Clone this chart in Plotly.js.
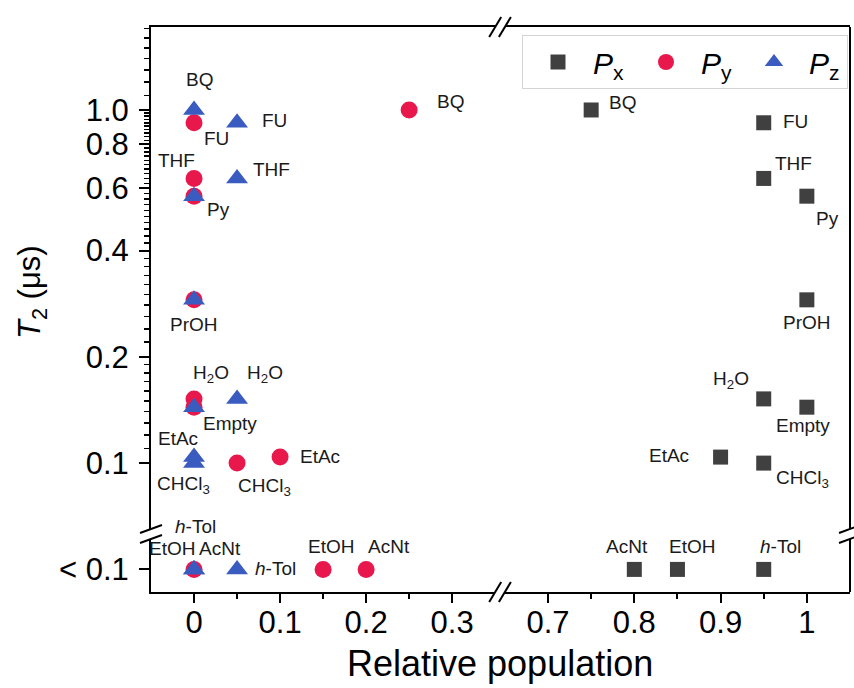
<!DOCTYPE html>
<html><head><meta charset="utf-8">
<script src="https://cdn.plot.ly/plotly-3.0.1.min.js"></script>
<style>html,body{margin:0;padding:0;background:#fff}</style>
</head><body>
<div id="chart" style="width:854px;height:688px"></div>
<script>
// ---- data (one T2 per solvent; the "< 0.1" row is stored as 0.05) ----
var solvents = ['BQ','FU','THF','Py','PrOH','H2O','Empty','EtAc','CHCl3','EtOH','AcNt','h-Tol'];
var T2 = [1.0, 0.92, 0.64, 0.57, 0.29, 0.152, 0.144, 0.104, 0.100, 0.05, 0.05, 0.05];
var Px = [0.75, 0.95, 0.95, 1.0, 1.0, 0.95, 1.0, 0.9, 0.95, 0.85, 0.8, 0.95];
var Py = [0.25, 0, 0, 0, 0, 0, 0, 0.1, 0.05, 0.15, 0.2, 0];
var Pz = [0, 0.05, 0.05, 0, 0, 0.05, 0, 0, 0, 0, 0, 0.05];

var yTickVals = [0.05, 0.1, 0.2, 0.4, 0.6, 0.8, 1.0];
var yTickText = ['< 0.1', '0.1', '0.2', '0.4', '0.6', '0.8', '1.0'];
var xTickValsLeft = [0, 0.1, 0.2, 0.3];
var xTickTextLeft = ['0', '0.1', '0.2', '0.3'];
var xTickValsRight = [0.7, 0.8, 0.9, 1.0];
var xTickTextRight = ['0.7', '0.8', '0.9', '1'];
var seriesNames = ['<i>P</i><sub>x</sub>', '<i>P</i><sub>y</sub>', '<i>P</i><sub>z</sub>'];

// ---- styling / placement ----
var FONT = 'Arial, "Liberation Sans", sans-serif';
var L = 151, R = 850, T = 27, B = 592;
function px2x(p){ return (p - L) / (R - L); }
function px2y(p){ return (B - p) / (B - T); }

var richName = {'H2O':'H<sub>2</sub>O','CHCl3':'CHCl<sub>3</sub>','h-Tol':'<i>h</i>-Tol'};
var labelOffsets = {
  Px: {BQ:[31,-7], FU:[32,-1], THF:[30,-15], Py:[21,22], PrOH:[0,23], H2O:[-33,-19], Empty:[-4,18],
       EtAc:[-52,-2], CHCl3:[39,16], AcNt:[-7,-23], EtOH:[15,-23], 'h-Tol':[17,-23]},
  Py: {BQ:[41,-8], FU:[22,16], THF:[-18,-18], Py:[24,13], PrOH:[0,25], H2O:[17,-25], Empty:[36,16],
       EtAc:[40,-1], CHCl3:[27,24], EtOH:[8,-23], AcNt:[23,-23], 'h-Tol':[1,-43]},
  Pz: {BQ:[5,-30], FU:[37,-2], THF:[34,-9], H2O:[28,-25], EtAc:[-16,-19], CHCl3:[-11,22],
       'h-Tol':[38,-1], EtOH:[-22,-21], AcNt:[26,-21]}
};

var traces = [
  {x: Px, y: T2, xaxis:'x2', yaxis:'y', name: seriesNames[0], type:'scatter', mode:'markers',
   marker:{symbol:'square', size:15, color:'#404040'}},
  {x: Py, y: T2, xaxis:'x', yaxis:'y', name: seriesNames[1], type:'scatter', mode:'markers',
   marker:{symbol:'circle', size:17, color:'#e8184c'}},
  {x: Pz, y: T2, xaxis:'x', yaxis:'y', name: seriesNames[2], type:'scatter', mode:'markers',
   marker:{symbol:'triangle-up', size:19, color:'#3a5bbf'}}
];

var annotations = [];
var seriesData = {Px: Px, Py: Py, Pz: Pz};
var seriesRef = {Px:'x2', Py:'x', Pz:'x'};
Object.keys(labelOffsets).forEach(function(s){
  solvents.forEach(function(sol, i){
    var off = labelOffsets[s][sol];
    if (!off) return;
    annotations.push({
      x: seriesData[s][i], y: Math.log10(T2[i]), xref: seriesRef[s], yref:'y',
      text: richName[sol] || sol, showarrow:false, xanchor:'center', yanchor:'middle',
      xshift: off[0], yshift: -off[1], font:{family:FONT, size:19, color:'#1a1a1a'}
    });
  });
});
// axis titles
annotations.push({xref:'paper', yref:'paper', x: px2x(500), y: px2y(663), text:'Relative population',
  showarrow:false, xanchor:'center', yanchor:'middle', font:{family:FONT, size:36, color:'#000'}});
annotations.push({xref:'paper', yref:'paper', x: px2x(32), y: px2y(292), text:'<i>T</i><sub>2</sub> (μs)',
  textangle:-90, showarrow:false, xanchor:'center', yanchor:'middle', font:{family:FONT, size:31, color:'#000'}});

// minor ticks on the log axis
var yMinor = [];
function addRange(a, b, st){ for (var k = Math.round(a/st); k <= Math.round(b/st); k++) yMinor.push(+(k*st).toFixed(3)); }
addRange(0.11, 0.19, 0.01); addRange(0.22, 0.38, 0.02); addRange(0.42, 0.58, 0.02);
addRange(0.62, 0.78, 0.02); addRange(0.82, 0.98, 0.02); addRange(1.1, 1.7, 0.1);

// frame + break marks
var shapes = [];
function seg(x0,y0,x1,y1,color,w){
  shapes.push({type:'line', xref:'paper', yref:'paper', x0:px2x(x0), y0:px2y(y0), x1:px2x(x1), y1:px2y(y1),
    line:{color:color, width:w}, layer:'above'});
}
seg(R, T, R, B, '#000', 2);
[L, R].forEach(function(cx){
  shapes.push({type:'rect', xref:'paper', yref:'paper', x0:px2x(cx-4), x1:px2x(cx+4), y0:px2y(539), y1:px2y(529),
    fillcolor:'#fff', line:{width:0}, layer:'above'});
  [529, 539].forEach(function(cy){ seg(cx-11, cy+4, cx+11, cy-4, '#000', 2); });
});
[495.2, 504.9].forEach(function(cx){
  [T, B].forEach(function(cy){ seg(cx-6, cy+10, cx+6, cy-10, '#000', 2); });
});

var xCommon = {showline:true, linecolor:'#000', linewidth:2, mirror:true, showgrid:false, zeroline:false,
  ticks:'outside', ticklen:9, tickwidth:2, tickcolor:'#000', tickmode:'array', ticklabelstandoff:-7,
  tickfont:{family:FONT, size:31, color:'#000'}, anchor:'y'};

var layout = {
  width:854, height:688, margin:{l:L, r:854-R, t:T, b:688-B}, paper_bgcolor:'#fff', plot_bgcolor:'#fff',
  font:{family:FONT},
  xaxis: Object.assign({}, xCommon, {domain:[0, px2x(495.2)], range:[-0.05, 0.35],
    tickvals:xTickValsLeft, ticktext:xTickTextLeft,
    minor:{tickmode:'array', tickvals:[0.05,0.15,0.25], ticks:'outside', ticklen:5, tickwidth:2, tickcolor:'#000'}}),
  xaxis2: Object.assign({}, xCommon, {domain:[px2x(504.9), 1], range:[0.65, 1.05],
    tickvals:xTickValsRight, ticktext:xTickTextRight,
    minor:{tickmode:'array', tickvals:[0.75,0.85,0.95], ticks:'outside', ticklen:5, tickwidth:2, tickcolor:'#000'}}),
  yaxis: {type:'log', range:[-1.365, 0.235], anchor:'x', showline:true, linecolor:'#000', linewidth:2,
    showgrid:false, zeroline:false, ticks:'outside', ticklen:10, tickwidth:2, tickcolor:'#000',
    tickmode:'array', tickvals:yTickVals, ticktext:yTickText, ticklabelstandoff:4,
    tickfont:{family:FONT, size:31, color:'#000'},
    minor:{tickmode:'array', tickvals:yMinor, ticks:'outside', ticklen:5, tickwidth:1.5, tickcolor:'#000'}},
  showlegend:true,
  legend:{orientation:'h', x:px2x(522), y:px2y(35), xanchor:'left', yanchor:'top',
    bgcolor:'#fff', bordercolor:'#d4d4d4', borderwidth:1, itemwidth:60, entrywidth:33,
    font:{family:FONT, size:30, color:'#000'}},
  annotations: annotations,
  shapes: shapes
};

Plotly.newPlot('chart', traces, layout, {staticPlot:true, displayModeBar:false});
</script>
</body></html>
